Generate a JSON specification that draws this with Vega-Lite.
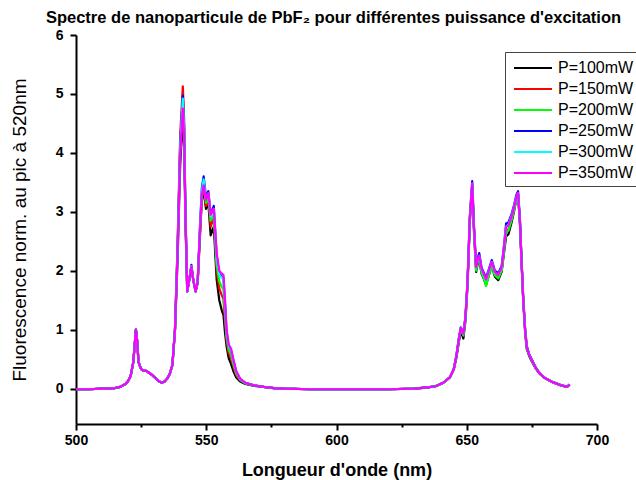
{
  "$schema": "https://vega.github.io/schema/vega-lite/v6.json",
  "width": 521,
  "height": 389,
  "autosize": {"type": "none"},
  "padding": {"left": 76, "top": 35, "right": 39, "bottom": 56},
  "background": "white",
  "title": {
    "text": "Spectre de nanoparticule de PbF₂ pour différentes puissance d'excitation",
    "font": "Liberation Sans",
    "fontSize": 16.5,
    "fontWeight": "bold",
    "color": "black",
    "anchor": "middle",
    "frame": "group",
    "offset": 6,
    "dy": 4,
    "dx": -3
  },
  "data": {
    "values": [
      {"x": 500, "P=100mW": -0.01, "P=150mW": -0.01, "P=200mW": -0.01, "P=250mW": -0.01, "P=300mW": -0.01, "P=350mW": -0.01},
      {"x": 505, "P=100mW": -0.01, "P=150mW": -0.01, "P=200mW": -0.01, "P=250mW": -0.01, "P=300mW": -0.01, "P=350mW": -0.01},
      {"x": 510, "P=100mW": 0, "P=150mW": 0, "P=200mW": 0, "P=250mW": 0, "P=300mW": 0, "P=350mW": 0},
      {"x": 515, "P=100mW": 0.01, "P=150mW": 0.01, "P=200mW": 0.01, "P=250mW": 0.01, "P=300mW": 0.01, "P=350mW": 0.01},
      {"x": 517, "P=100mW": 0.03, "P=150mW": 0.03, "P=200mW": 0.03, "P=250mW": 0.03, "P=300mW": 0.03, "P=350mW": 0.03},
      {"x": 519, "P=100mW": 0.08, "P=150mW": 0.08, "P=200mW": 0.08, "P=250mW": 0.08, "P=300mW": 0.08, "P=350mW": 0.08},
      {"x": 520, "P=100mW": 0.13, "P=150mW": 0.13, "P=200mW": 0.13, "P=250mW": 0.13, "P=300mW": 0.13, "P=350mW": 0.13},
      {"x": 521, "P=100mW": 0.22, "P=150mW": 0.22, "P=200mW": 0.22, "P=250mW": 0.22, "P=300mW": 0.22, "P=350mW": 0.22},
      {"x": 522, "P=100mW": 0.45, "P=150mW": 0.45, "P=200mW": 0.45, "P=250mW": 0.45, "P=300mW": 0.45, "P=350mW": 0.45},
      {"x": 523, "P=100mW": 1.0, "P=150mW": 1.0, "P=200mW": 1.0, "P=250mW": 1.0, "P=300mW": 1.0, "P=350mW": 1.0},
      {"x": 523.5, "P=100mW": 0.8, "P=150mW": 0.8, "P=200mW": 0.8, "P=250mW": 0.8, "P=300mW": 0.8, "P=350mW": 0.8},
      {"x": 524, "P=100mW": 0.45, "P=150mW": 0.45, "P=200mW": 0.45, "P=250mW": 0.45, "P=300mW": 0.45, "P=350mW": 0.45},
      {"x": 525, "P=100mW": 0.33, "P=150mW": 0.33, "P=200mW": 0.33, "P=250mW": 0.33, "P=300mW": 0.33, "P=350mW": 0.33},
      {"x": 526, "P=100mW": 0.3, "P=150mW": 0.3, "P=200mW": 0.3, "P=250mW": 0.3, "P=300mW": 0.3, "P=350mW": 0.3},
      {"x": 527, "P=100mW": 0.3, "P=150mW": 0.3, "P=200mW": 0.3, "P=250mW": 0.3, "P=300mW": 0.3, "P=350mW": 0.3},
      {"x": 528, "P=100mW": 0.27, "P=150mW": 0.27, "P=200mW": 0.27, "P=250mW": 0.27, "P=300mW": 0.27, "P=350mW": 0.27},
      {"x": 529, "P=100mW": 0.24, "P=150mW": 0.24, "P=200mW": 0.24, "P=250mW": 0.24, "P=300mW": 0.24, "P=350mW": 0.24},
      {"x": 530, "P=100mW": 0.2, "P=150mW": 0.2, "P=200mW": 0.2, "P=250mW": 0.2, "P=300mW": 0.2, "P=350mW": 0.2},
      {"x": 531, "P=100mW": 0.16, "P=150mW": 0.16, "P=200mW": 0.16, "P=250mW": 0.16, "P=300mW": 0.16, "P=350mW": 0.16},
      {"x": 532, "P=100mW": 0.12, "P=150mW": 0.12, "P=200mW": 0.12, "P=250mW": 0.12, "P=300mW": 0.12, "P=350mW": 0.12},
      {"x": 533, "P=100mW": 0.1, "P=150mW": 0.1, "P=200mW": 0.1, "P=250mW": 0.1, "P=300mW": 0.1, "P=350mW": 0.1},
      {"x": 534, "P=100mW": 0.12, "P=150mW": 0.12, "P=200mW": 0.12, "P=250mW": 0.12, "P=300mW": 0.12, "P=350mW": 0.12},
      {"x": 535, "P=100mW": 0.17, "P=150mW": 0.17, "P=200mW": 0.17, "P=250mW": 0.17, "P=300mW": 0.17, "P=350mW": 0.17},
      {"x": 536, "P=100mW": 0.25, "P=150mW": 0.25, "P=200mW": 0.25, "P=250mW": 0.25, "P=300mW": 0.25, "P=350mW": 0.25},
      {"x": 537, "P=100mW": 0.4, "P=150mW": 0.4, "P=200mW": 0.4, "P=250mW": 0.4, "P=300mW": 0.4, "P=350mW": 0.4},
      {"x": 538, "P=100mW": 1.0, "P=150mW": 1.0, "P=200mW": 1.0, "P=250mW": 1.0, "P=300mW": 1.0, "P=350mW": 1.0},
      {"x": 539, "P=100mW": 2.2, "P=150mW": 2.45, "P=200mW": 2.35, "P=250mW": 2.4, "P=300mW": 2.35, "P=350mW": 2.3},
      {"x": 540, "P=100mW": 3.8, "P=150mW": 4.3, "P=200mW": 4.05, "P=250mW": 4.15, "P=300mW": 4.1, "P=350mW": 4.0},
      {"x": 541, "P=100mW": 4.62, "P=150mW": 5.13, "P=200mW": 4.85, "P=250mW": 4.97, "P=300mW": 4.92, "P=350mW": 4.75},
      {"x": 541.5, "P=100mW": 4.1, "P=150mW": 4.6, "P=200mW": 4.35, "P=250mW": 4.45, "P=300mW": 4.4, "P=350mW": 4.3},
      {"x": 542, "P=100mW": 2.9, "P=150mW": 3.0, "P=200mW": 3.0, "P=250mW": 3.0, "P=300mW": 3.0, "P=350mW": 3.0},
      {"x": 542.7, "P=100mW": 1.65, "P=150mW": 1.65, "P=200mW": 1.65, "P=250mW": 1.65, "P=300mW": 1.65, "P=350mW": 1.65},
      {"x": 543.5, "P=100mW": 1.85, "P=150mW": 1.85, "P=200mW": 1.85, "P=250mW": 1.85, "P=300mW": 1.85, "P=350mW": 1.85},
      {"x": 544.3, "P=100mW": 2.05, "P=150mW": 2.07, "P=200mW": 2.07, "P=250mW": 2.1, "P=300mW": 2.08, "P=350mW": 2.07},
      {"x": 545, "P=100mW": 1.85, "P=150mW": 1.85, "P=200mW": 1.85, "P=250mW": 1.85, "P=300mW": 1.85, "P=350mW": 1.85},
      {"x": 545.9, "P=100mW": 1.65, "P=150mW": 1.65, "P=200mW": 1.65, "P=250mW": 1.65, "P=300mW": 1.65, "P=350mW": 1.65},
      {"x": 546.7, "P=100mW": 1.8, "P=150mW": 1.8, "P=200mW": 1.8, "P=250mW": 1.8, "P=300mW": 1.8, "P=350mW": 1.8},
      {"x": 547.6, "P=100mW": 2.6, "P=150mW": 2.65, "P=200mW": 2.7, "P=250mW": 2.75, "P=300mW": 2.72, "P=350mW": 2.7},
      {"x": 548.3, "P=100mW": 3.2, "P=150mW": 3.25, "P=200mW": 3.3, "P=250mW": 3.4, "P=300mW": 3.35, "P=350mW": 3.3},
      {"x": 549, "P=100mW": 3.35, "P=150mW": 3.42, "P=200mW": 3.5, "P=250mW": 3.6, "P=300mW": 3.55, "P=350mW": 3.45},
      {"x": 549.9, "P=100mW": 3.05, "P=150mW": 3.1, "P=200mW": 3.15, "P=250mW": 3.25, "P=300mW": 3.2, "P=350mW": 3.2},
      {"x": 550.8, "P=100mW": 3.15, "P=150mW": 3.2, "P=200mW": 3.25, "P=250mW": 3.35, "P=300mW": 3.3, "P=350mW": 3.32},
      {"x": 551.7, "P=100mW": 2.6, "P=150mW": 2.75, "P=200mW": 2.85, "P=250mW": 2.95, "P=300mW": 2.92, "P=350mW": 2.95},
      {"x": 552.9, "P=100mW": 2.75, "P=150mW": 2.9, "P=200mW": 2.95, "P=250mW": 3.1, "P=300mW": 3.05, "P=350mW": 3.05},
      {"x": 554, "P=100mW": 1.85, "P=150mW": 2.0, "P=200mW": 2.1, "P=250mW": 2.25, "P=300mW": 2.2, "P=350mW": 2.3},
      {"x": 555, "P=100mW": 1.5, "P=150mW": 1.7, "P=200mW": 1.82, "P=250mW": 1.95, "P=300mW": 1.93, "P=350mW": 2.0},
      {"x": 556, "P=100mW": 1.32, "P=150mW": 1.58, "P=200mW": 1.72, "P=250mW": 1.9, "P=300mW": 1.88, "P=350mW": 1.95},
      {"x": 556.6, "P=100mW": 1.25, "P=150mW": 1.52, "P=200mW": 1.68, "P=250mW": 1.88, "P=300mW": 1.85, "P=350mW": 1.93},
      {"x": 557.2, "P=100mW": 0.95, "P=150mW": 1.15, "P=200mW": 1.28, "P=250mW": 1.45, "P=300mW": 1.42, "P=350mW": 1.5},
      {"x": 557.8, "P=100mW": 0.72, "P=150mW": 0.82, "P=200mW": 0.88, "P=250mW": 0.97, "P=300mW": 0.95, "P=350mW": 1.0},
      {"x": 558.6, "P=100mW": 0.52, "P=150mW": 0.6, "P=200mW": 0.66, "P=250mW": 0.72, "P=300mW": 0.72, "P=350mW": 0.75},
      {"x": 559.5, "P=100mW": 0.42, "P=150mW": 0.52, "P=200mW": 0.58, "P=250mW": 0.65, "P=300mW": 0.65, "P=350mW": 0.68},
      {"x": 560.4, "P=100mW": 0.3, "P=150mW": 0.37, "P=200mW": 0.42, "P=250mW": 0.48, "P=300mW": 0.47, "P=350mW": 0.5},
      {"x": 561.5, "P=100mW": 0.19, "P=150mW": 0.23, "P=200mW": 0.26, "P=250mW": 0.29, "P=300mW": 0.29, "P=350mW": 0.3},
      {"x": 563, "P=100mW": 0.12, "P=150mW": 0.14, "P=200mW": 0.15, "P=250mW": 0.16, "P=300mW": 0.16, "P=350mW": 0.17},
      {"x": 565, "P=100mW": 0.08, "P=150mW": 0.09, "P=200mW": 0.09, "P=250mW": 0.1, "P=300mW": 0.1, "P=350mW": 0.1},
      {"x": 568, "P=100mW": 0.05, "P=150mW": 0.06, "P=200mW": 0.06, "P=250mW": 0.06, "P=300mW": 0.06, "P=350mW": 0.06},
      {"x": 572, "P=100mW": 0.03, "P=150mW": 0.03, "P=200mW": 0.03, "P=250mW": 0.03, "P=300mW": 0.03, "P=350mW": 0.03},
      {"x": 576, "P=100mW": 0.01, "P=150mW": 0.01, "P=200mW": 0.01, "P=250mW": 0.01, "P=300mW": 0.01, "P=350mW": 0.01},
      {"x": 580, "P=100mW": 0, "P=150mW": 0, "P=200mW": 0, "P=250mW": 0, "P=300mW": 0, "P=350mW": 0},
      {"x": 590, "P=100mW": -0.01, "P=150mW": -0.01, "P=200mW": -0.01, "P=250mW": -0.01, "P=300mW": -0.01, "P=350mW": -0.01},
      {"x": 600, "P=100mW": -0.01, "P=150mW": -0.01, "P=200mW": -0.01, "P=250mW": -0.01, "P=300mW": -0.01, "P=350mW": -0.01},
      {"x": 610, "P=100mW": -0.01, "P=150mW": -0.01, "P=200mW": -0.01, "P=250mW": -0.01, "P=300mW": -0.01, "P=350mW": -0.01},
      {"x": 620, "P=100mW": -0.01, "P=150mW": -0.01, "P=200mW": -0.01, "P=250mW": -0.01, "P=300mW": -0.01, "P=350mW": -0.01},
      {"x": 630, "P=100mW": 0, "P=150mW": 0, "P=200mW": 0, "P=250mW": 0, "P=300mW": 0, "P=350mW": 0},
      {"x": 635, "P=100mW": 0.02, "P=150mW": 0.02, "P=200mW": 0.02, "P=250mW": 0.02, "P=300mW": 0.02, "P=350mW": 0.02},
      {"x": 638, "P=100mW": 0.04, "P=150mW": 0.04, "P=200mW": 0.04, "P=250mW": 0.04, "P=300mW": 0.04, "P=350mW": 0.04},
      {"x": 641, "P=100mW": 0.1, "P=150mW": 0.1, "P=200mW": 0.1, "P=250mW": 0.1, "P=300mW": 0.1, "P=350mW": 0.1},
      {"x": 643.5, "P=100mW": 0.19, "P=150mW": 0.19, "P=200mW": 0.19, "P=250mW": 0.19, "P=300mW": 0.19, "P=350mW": 0.19},
      {"x": 645, "P=100mW": 0.32, "P=150mW": 0.33, "P=200mW": 0.33, "P=250mW": 0.33, "P=300mW": 0.33, "P=350mW": 0.33},
      {"x": 646, "P=100mW": 0.52, "P=150mW": 0.55, "P=200mW": 0.55, "P=250mW": 0.55, "P=300mW": 0.55, "P=350mW": 0.55},
      {"x": 647, "P=100mW": 0.8, "P=150mW": 0.85, "P=200mW": 0.85, "P=250mW": 0.86, "P=300mW": 0.85, "P=350mW": 0.85},
      {"x": 647.7, "P=100mW": 0.98, "P=150mW": 1.02, "P=200mW": 1.01, "P=250mW": 1.04, "P=300mW": 1.03, "P=350mW": 1.03},
      {"x": 648.7, "P=100mW": 0.85, "P=150mW": 0.92, "P=200mW": 0.9, "P=250mW": 0.94, "P=300mW": 0.93, "P=350mW": 0.93},
      {"x": 649.5, "P=100mW": 1.15, "P=150mW": 1.2, "P=200mW": 1.18, "P=250mW": 1.22, "P=300mW": 1.2, "P=350mW": 1.2},
      {"x": 650.3, "P=100mW": 1.75, "P=150mW": 1.8, "P=200mW": 1.78, "P=250mW": 1.82, "P=300mW": 1.8, "P=350mW": 1.8},
      {"x": 651.2, "P=100mW": 2.85, "P=150mW": 2.9, "P=200mW": 2.88, "P=250mW": 2.93, "P=300mW": 2.9, "P=350mW": 2.9},
      {"x": 652.1, "P=100mW": 3.4, "P=150mW": 3.45, "P=200mW": 3.45, "P=250mW": 3.52, "P=300mW": 3.48, "P=350mW": 3.48},
      {"x": 652.8, "P=100mW": 2.65, "P=150mW": 2.7, "P=200mW": 2.68, "P=250mW": 2.74, "P=300mW": 2.7, "P=350mW": 2.7},
      {"x": 653.6, "P=100mW": 1.98, "P=150mW": 2.04, "P=200mW": 2.0, "P=250mW": 2.08, "P=300mW": 2.05, "P=350mW": 2.06},
      {"x": 654.2, "P=100mW": 2.12, "P=150mW": 2.18, "P=200mW": 2.15, "P=250mW": 2.22, "P=300mW": 2.2, "P=350mW": 2.2},
      {"x": 654.8, "P=100mW": 2.18, "P=150mW": 2.24, "P=200mW": 2.2, "P=250mW": 2.3, "P=300mW": 2.25, "P=350mW": 2.26},
      {"x": 655.7, "P=100mW": 1.95, "P=150mW": 2.0, "P=200mW": 1.97, "P=250mW": 2.05, "P=300mW": 2.02, "P=350mW": 2.03},
      {"x": 656.5, "P=100mW": 1.87, "P=150mW": 1.92, "P=200mW": 1.88, "P=250mW": 1.97, "P=300mW": 1.93, "P=350mW": 1.95},
      {"x": 657.4, "P=100mW": 1.76, "P=150mW": 1.8, "P=200mW": 1.74, "P=250mW": 1.88, "P=300mW": 1.84, "P=350mW": 1.85},
      {"x": 658.5, "P=100mW": 1.92, "P=150mW": 1.97, "P=200mW": 1.93, "P=250mW": 2.03, "P=300mW": 2.0, "P=350mW": 2.0},
      {"x": 659.6, "P=100mW": 2.08, "P=150mW": 2.12, "P=200mW": 2.08, "P=250mW": 2.18, "P=300mW": 2.15, "P=350mW": 2.15},
      {"x": 660.8, "P=100mW": 1.9, "P=150mW": 1.95, "P=200mW": 1.92, "P=250mW": 2.0, "P=300mW": 1.97, "P=350mW": 1.98},
      {"x": 662.1, "P=100mW": 1.84, "P=150mW": 1.9, "P=200mW": 1.87, "P=250mW": 1.96, "P=300mW": 1.93, "P=350mW": 1.93},
      {"x": 663.4, "P=100mW": 1.98, "P=150mW": 2.03, "P=200mW": 2.0, "P=250mW": 2.08, "P=300mW": 2.05, "P=350mW": 2.06},
      {"x": 664.3, "P=100mW": 2.3, "P=150mW": 2.36, "P=200mW": 2.33, "P=250mW": 2.43, "P=300mW": 2.4, "P=350mW": 2.4},
      {"x": 665.1, "P=100mW": 2.58, "P=150mW": 2.68, "P=200mW": 2.65, "P=250mW": 2.8, "P=300mW": 2.75, "P=350mW": 2.74},
      {"x": 666, "P=100mW": 2.62, "P=150mW": 2.7, "P=200mW": 2.68, "P=250mW": 2.82, "P=300mW": 2.78, "P=350mW": 2.77},
      {"x": 667.2, "P=100mW": 2.82, "P=150mW": 2.88, "P=200mW": 2.86, "P=250mW": 2.96, "P=300mW": 2.93, "P=350mW": 2.92},
      {"x": 668.2, "P=100mW": 3.02, "P=150mW": 3.05, "P=200mW": 3.04, "P=250mW": 3.12, "P=300mW": 3.08, "P=350mW": 3.08},
      {"x": 669, "P=100mW": 3.2, "P=150mW": 3.22, "P=200mW": 3.2, "P=250mW": 3.28, "P=300mW": 3.25, "P=350mW": 3.25},
      {"x": 669.7, "P=100mW": 3.28, "P=150mW": 3.3, "P=200mW": 3.28, "P=250mW": 3.35, "P=300mW": 3.32, "P=350mW": 3.32},
      {"x": 670.4, "P=100mW": 2.82, "P=150mW": 2.85, "P=200mW": 2.84, "P=250mW": 2.88, "P=300mW": 2.85, "P=350mW": 2.85},
      {"x": 671, "P=100mW": 2.18, "P=150mW": 2.2, "P=200mW": 2.2, "P=250mW": 2.22, "P=300mW": 2.2, "P=350mW": 2.2},
      {"x": 671.7, "P=100mW": 1.48, "P=150mW": 1.5, "P=200mW": 1.5, "P=250mW": 1.52, "P=300mW": 1.5, "P=350mW": 1.5},
      {"x": 672.4, "P=100mW": 0.97, "P=150mW": 1.0, "P=200mW": 1.0, "P=250mW": 1.02, "P=300mW": 1.0, "P=350mW": 1.0},
      {"x": 673, "P=100mW": 0.68, "P=150mW": 0.72, "P=200mW": 0.71, "P=250mW": 0.73, "P=300mW": 0.72, "P=350mW": 0.72},
      {"x": 674, "P=100mW": 0.55, "P=150mW": 0.57, "P=200mW": 0.57, "P=250mW": 0.58, "P=300mW": 0.57, "P=350mW": 0.57},
      {"x": 675, "P=100mW": 0.46, "P=150mW": 0.48, "P=200mW": 0.48, "P=250mW": 0.49, "P=300mW": 0.48, "P=350mW": 0.48},
      {"x": 676.5, "P=100mW": 0.34, "P=150mW": 0.35, "P=200mW": 0.35, "P=250mW": 0.36, "P=300mW": 0.35, "P=350mW": 0.35},
      {"x": 678, "P=100mW": 0.25, "P=150mW": 0.26, "P=200mW": 0.26, "P=250mW": 0.26, "P=300mW": 0.26, "P=350mW": 0.26},
      {"x": 680, "P=100mW": 0.18, "P=150mW": 0.18, "P=200mW": 0.18, "P=250mW": 0.18, "P=300mW": 0.18, "P=350mW": 0.18},
      {"x": 683, "P=100mW": 0.11, "P=150mW": 0.11, "P=200mW": 0.11, "P=250mW": 0.11, "P=300mW": 0.11, "P=350mW": 0.11},
      {"x": 686, "P=100mW": 0.06, "P=150mW": 0.06, "P=200mW": 0.06, "P=250mW": 0.06, "P=300mW": 0.06, "P=350mW": 0.06},
      {"x": 688.5, "P=100mW": 0.03, "P=150mW": 0.03, "P=200mW": 0.03, "P=250mW": 0.03, "P=300mW": 0.03, "P=350mW": 0.03},
      {"x": 689.5, "P=100mW": 0.07, "P=150mW": 0.07, "P=200mW": 0.07, "P=250mW": 0.07, "P=300mW": 0.07, "P=350mW": 0.07}
    ]
  },
  "transform": [
    {"fold": ["P=100mW", "P=150mW", "P=200mW", "P=250mW", "P=300mW", "P=350mW"], "as": ["serie", "val"]}
  ],
  "mark": {"type": "line", "strokeWidth": 2.2, "strokeJoin": "round"},
  "encoding": {
    "x": {
      "field": "x",
      "type": "quantitative",
      "scale": {"domain": [500, 700], "nice": false, "zero": false},
      "axis": {
        "values": [500, 525, 550, 575, 600, 625, 650, 675, 700],
        "labelExpr": "datum.value % 50 === 0 ? datum.label : ''",
        "format": "d",
        "tickSize": {"condition": {"test": "datum.value % 50 !== 0", "value": 3}, "value": 6},
        "tickWidth": 2,
        "tickColor": "black",
        "domainColor": "black",
        "domainWidth": 2,
        "grid": false,
        "labelFont": "Liberation Sans",
        "labelFontSize": 14,
        "labelFontWeight": "bold",
        "labelColor": "black",
        "labelPadding": 3,
        "labelFlush": false,
        "title": "Longueur d'onde (nm)",
        "titleFont": "Liberation Sans",
        "titleFontSize": 18,
        "titleFontWeight": "bold",
        "titleColor": "black",
        "titlePadding": 14
      }
    },
    "y": {
      "field": "val",
      "type": "quantitative",
      "scale": {"domain": [-0.6, 6], "nice": false, "zero": false},
      "axis": {
        "values": [0, 0.5, 1, 1.5, 2, 2.5, 3, 3.5, 4, 4.5, 5, 5.5, 6],
        "labelExpr": "datum.value % 1 === 0 ? datum.label : ''",
        "format": "d",
        "tickSize": {"condition": {"test": "datum.value % 1 !== 0", "value": 3}, "value": 6},
        "tickWidth": 2,
        "tickColor": "black",
        "domainColor": "black",
        "domainWidth": 2,
        "grid": false,
        "labelFont": "Liberation Sans",
        "labelFontSize": 14,
        "labelFontWeight": "bold",
        "labelColor": "black",
        "labelPadding": 7,
        "labelFlush": false,
        "title": "Fluorescence norm. au pic à 520nm",
        "titleFont": "Liberation Sans",
        "titleFontSize": 19,
        "titleFontWeight": "normal",
        "titleColor": "black",
        "titlePadding": 26
      }
    },
    "color": {
      "field": "serie",
      "type": "nominal",
      "scale": {
        "domain": ["P=100mW", "P=150mW", "P=200mW", "P=250mW", "P=300mW", "P=350mW"],
        "range": ["#000000", "#ff0000", "#00ff00", "#0000ff", "#00ffff", "#ff00ff"]
      },
      "legend": {
        "orient": "none",
        "legendX": 429,
        "legendY": 17,
        "title": null,
        "strokeColor": "#444444",
        "fillColor": "white",
        "padding": 5,
        "symbolType": "M-0.7,0H3.1",
        "symbolSize": 400,
        "symbolStrokeWidth": 2,
        "labelFont": "Liberation Sans",
        "labelFontSize": 16,
        "labelColor": "black",
        "labelOffset": 26,
        "rowPadding": 2
      }
    }
  },
  "config": {"view": {"stroke": null}}
}
